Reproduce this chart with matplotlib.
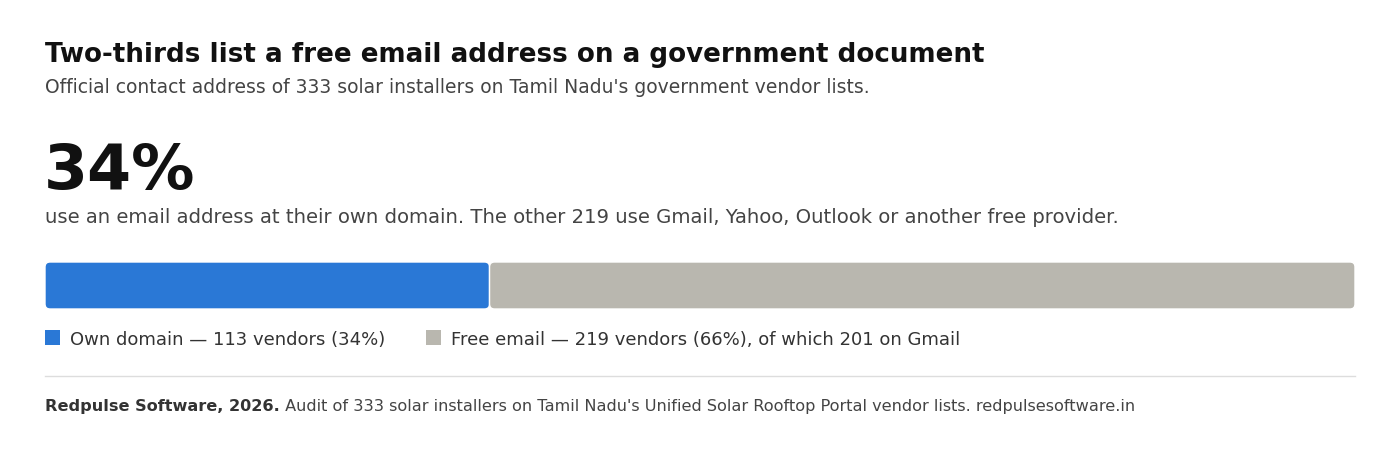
import matplotlib.pyplot as plt
from matplotlib.patches import FancyBboxPatch, Rectangle
from matplotlib.lines import Line2D

plt.rcParams["font.family"] = ["DejaVu Sans"]

# ----- Data -----
total_vendors = 333
categories = ["Own domain", "Free email"]
counts = [113, 219]
shares = [34, 66]
gmail_count = 201
colors = ["#2a78d6", "#b9b7af"]

title = "Two-thirds list a free email address on a government document"
subtitle = "Official contact address of 333 solar installers on Tamil Nadu's government vendor lists."
headline = f"{shares[0]}%"
body = (f"use an email address at their own domain. The other {counts[1]} use Gmail, "
        "Yahoo, Outlook or another free provider.")
legend_labels = [
    f"{categories[0]} \u2014 {counts[0]} vendors ({shares[0]}%)",
    f"{categories[1]} \u2014 {counts[1]} vendors ({shares[1]}%), of which {gmail_count} on Gmail",
]
source_bold = "Redpulse Software, 2026."
source_text = (" Audit of 333 solar installers on Tamil Nadu's Unified Solar Rooftop "
               "Portal vendor lists. redpulsesoftware.in")

W, H = 1400, 464
fig = plt.figure(figsize=(W / 100, H / 100), dpi=100)
fig.patch.set_facecolor("white")


def fx(x):
    return x / W


def fy(y):
    return 1 - y / H


# ----- Text header -----
fig.text(fx(45), fy(62), title, fontsize=18.8, fontweight="bold", color="#111111", va="baseline")
fig.text(fx(45), fy(93), subtitle, fontsize=13.5, color="#444444", va="baseline")
fig.text(fx(44), fy(189), headline, fontsize=45.6, fontweight="bold", color="#111111", va="baseline")
fig.text(fx(45), fy(223), body, fontsize=14.1, color="#444444", va="baseline")

# ----- Stacked bar -----
ax = fig.add_axes([fx(45), fy(310), fx(1310), (310 - 263) / H])
ax.set_xlim(0, total_vendors)
ax.set_ylim(0, 1)
ax.axis("off")

px_x = total_vendors / 1310
px_y = 1 / 47
left = 0
for i, c in enumerate(counts):
    width = c if i < len(counts) - 1 else total_vendors - left
    box = FancyBboxPatch((left, 0), width, 1,
                         boxstyle=f"round,pad=0,rounding_size={5 * px_x}",
                         mutation_aspect=px_y / px_x,
                         facecolor=colors[i], edgecolor="white", linewidth=1.0,
                         clip_on=False)
    ax.add_patch(box)
    left += c

# ----- Legend -----
legend_x = [45, 426]
for i, lab in enumerate(legend_labels):
    fig.patches.append(Rectangle((fx(legend_x[i]), fy(346)), fx(15), 15 / H,
                                 transform=fig.transFigure, facecolor=colors[i],
                                 edgecolor="none"))
    fig.text(fx(legend_x[i] + 25), fy(345), lab, fontsize=13.0, color="#333333", va="baseline")

# ----- Separator and source -----
fig.add_artist(Line2D([fx(45), fx(1355)], [fy(377), fy(377)], transform=fig.transFigure,
                      color="#dddddd", linewidth=1))

t1 = fig.text(fx(45), fy(411), source_bold, fontsize=11.6, fontweight="bold", color="#333333", va="baseline")
fig.canvas.draw()
bb = t1.get_window_extent()
fig.text(bb.x1 / W, fy(411), source_text, fontsize=11.6, color="#444444", va="baseline")

fig.savefig("out.png", dpi=100, facecolor="white")
